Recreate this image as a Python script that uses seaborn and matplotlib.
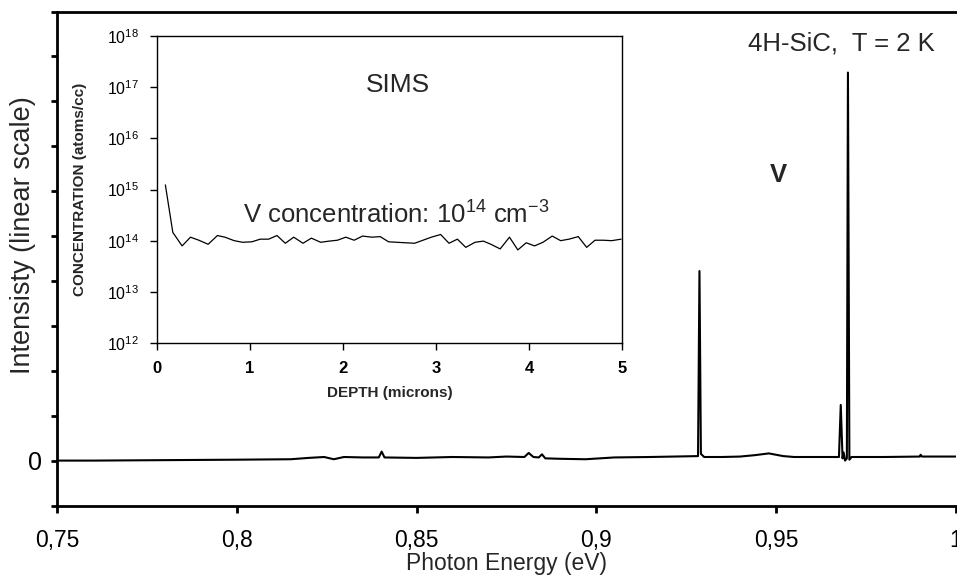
import numpy as np
import pandas as pd
import matplotlib
matplotlib.use('Agg')
import matplotlib.pyplot as plt
import seaborn as sns

# main PL spectrum
energy = [0.750, 0.760, 0.780, 0.800, 0.815, 0.820, 0.8243, 0.8270, 0.8298, 0.835,
          0.8395, 0.8403, 0.8411, 0.850, 0.860, 0.870, 0.875, 0.880, 0.8812, 0.8825,
          0.8840, 0.8849, 0.8858, 0.890, 0.897, 0.905, 0.915, 0.9283, 0.9287, 0.9291,
          0.9300, 0.935, 0.940, 0.944, 0.948, 0.952, 0.955, 0.960, 0.9675, 0.9680,
          0.9685, 0.9688, 0.9692, 0.9697, 0.9700, 0.9704, 0.9710, 0.980, 0.990, 0.9902,
          0.9906, 1.000]
intensity = [0.00, 0.00, 0.01, 0.02, 0.03, 0.06, 0.08, 0.03, 0.08, 0.07,
             0.07, 0.20, 0.07, 0.06, 0.08, 0.07, 0.09, 0.08, 0.17, 0.08,
             0.07, 0.14, 0.05, 0.04, 0.03, 0.07, 0.08, 0.10, 4.22, 0.15,
             0.08, 0.08, 0.09, 0.12, 0.16, 0.10, 0.08, 0.08, 0.08, 1.24,
             0.05, 0.18, 0.00, 0.05, 8.64, 0.02, 0.08, 0.08, 0.09, 0.13,
             0.09, 0.09]

# SIMS depth profile (inset)
depth = [0.09, 0.17, 0.27, 0.36, 0.45, 0.55, 0.65, 0.73, 0.83, 0.92,
         1.02, 1.11, 1.20, 1.29, 1.38, 1.47, 1.57, 1.66, 1.76, 1.85,
         1.94, 2.03, 2.12, 2.21, 2.31, 2.40, 2.49, 2.58, 2.67, 2.77,
         2.86, 2.95, 3.05, 3.14, 3.23, 3.32, 3.42, 3.51, 3.59, 3.69,
         3.79, 3.88, 3.97, 4.06, 4.15, 4.25, 4.34, 4.43, 4.53, 4.62,
         4.71, 4.80, 4.89, 4.99]
conc = [1.23e15, 1.45e14, 7.9e13, 1.17e14, 1.02e14, 8.5e13, 1.26e14, 1.17e14, 1.0e14, 9.3e13,
        9.5e13, 1.07e14, 1.07e14, 1.26e14, 8.9e13, 1.17e14, 8.9e13, 1.12e14, 9.3e13, 9.8e13,
        1.02e14, 1.17e14, 1.02e14, 1.23e14, 1.17e14, 1.2e14, 9.5e13, 9.3e13, 9.1e13, 8.9e13,
        1.02e14, 1.17e14, 1.32e14, 8.9e13, 1.07e14, 7.4e13, 9.3e13, 9.8e13, 8.5e13, 6.9e13,
        1.17e14, 6.6e13, 9.1e13, 7.9e13, 9.3e13, 1.23e14, 1.0e14, 1.07e14, 1.2e14, 7.4e13,
        1.02e14, 1.02e14, 1.0e14, 1.07e14]

xticks = [0.75, 0.8, 0.85, 0.9, 0.95, 1.0]
xticklabels = ['0,75', '0,8', '0,85', '0,9', '0,95', '1']

sns.set_style('ticks')
plt.rcParams['font.family'] = ['Liberation Sans', 'DejaVu Sans']
plt.rcParams['mathtext.fontset'] = 'custom'
plt.rcParams['mathtext.rm'] = 'Liberation Sans'
plt.rcParams['mathtext.it'] = 'Liberation Sans:italic'
plt.rcParams['mathtext.bf'] = 'Liberation Sans:bold'

W, H = 957, 581
fig = plt.figure(figsize=(W / 100, H / 100), dpi=100)
fig.patch.set_facecolor('white')

ax = fig.add_axes([57 / W, 1 - 505.5 / H, 898.8 / W, 494 / H])
sns.lineplot(x=energy, y=intensity, ax=ax, color='black', lw=1.5)
ax.set_xlim(0.75, 1.0)
ax.set_ylim(-1, 10)
ax.set_xticks(xticks)
ax.set_xticklabels(xticklabels, fontsize=16.5)
ax.set_yticks(range(-1, 11))
ax.set_yticklabels(['0' if v == 0 else '' for v in range(-1, 11)], fontsize=18)
for s in ['left', 'bottom', 'top']:
    ax.spines[s].set_linewidth(2.0)
    ax.spines[s].set_color('black')
ax.spines['right'].set_visible(False)
ax.tick_params(axis='x', direction='out', length=5, width=2.0, pad=12, colors='black')
ax.tick_params(axis='y', direction='out', length=4, width=2.0, pad=7, colors='black')
ax.set_xlabel('Photon Energy (eV)', fontsize=16.5)
ax.xaxis.set_label_coords(0.5, -0.094)
ax.set_ylabel('Intensisty (linear scale)', fontsize=19.5)
ax.yaxis.set_label_coords(-0.023, 0.548)

fig.text(841 / W, 1 - 43 / H, '4H-SiC,  T = 2 K', fontsize=18.5, ha='center', va='center')
fig.text(778 / W, 1 - 175 / H, 'V', fontsize=18.5, fontweight='bold', ha='center', va='center')

# inset: SIMS profile
ins = fig.add_axes([157 / W, 1 - 343 / H, 465 / W, 307 / H])
ins.set_facecolor('white')
sns.lineplot(x=depth, y=conc, ax=ins, color='black', lw=0.9)
ins.set_yscale('log')
ins.set_xlim(0, 5)
ins.set_ylim(1e12, 1e18)
ins.set_yticks([10.0 ** k for k in range(12, 19)])
ins.set_yticklabels([r'$10^{%d}$' % k for k in range(12, 19)], fontsize=11.5)
ins.yaxis.set_minor_locator(matplotlib.ticker.NullLocator())
ins.set_xticks([0, 1, 2, 3, 4, 5])
ins.set_xticklabels(['0', '1', '2', '3', '4', '5'], fontsize=12, fontweight='bold')
for s in ins.spines.values():
    s.set_linewidth(1.0)
    s.set_color('black')
ins.tick_params(axis='both', direction='out', length=5, width=1.0, colors='black')
ins.tick_params(axis='y', pad=8)
ins.tick_params(axis='x', pad=8)
ins.set_xlabel('DEPTH (microns)', fontsize=11, fontweight='bold')
ins.xaxis.set_label_coords(0.5, -0.14)
ins.set_ylabel('CONCENTRATION (atoms/cc)', fontsize=11, fontweight='bold')
ins.yaxis.set_label_coords(-0.15, 0.5)

fig.text(398 / W, 1 - 85 / H, 'SIMS', fontsize=19, ha='center', va='center')
fig.text(243 / W, 1 - 224 / H, r'V concentration: 10$^{14}$ cm$^{\mathrm{-3}}$', fontsize=18.5,
         ha='left', va='baseline')

fig.savefig('out.png', dpi=100)
